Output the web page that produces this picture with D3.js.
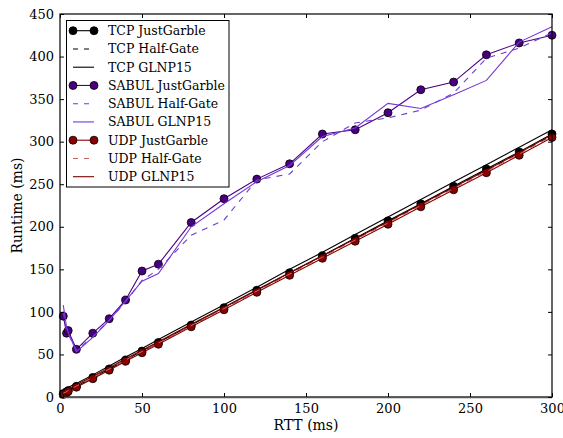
<!DOCTYPE html>
<html><head><meta charset="utf-8">
<script src="https://cdn.jsdelivr.net/npm/d3@7"></script>
<style>
html,body{margin:0;padding:0;background:#fff;}
text{font-family:"DejaVu Serif",serif;fill:#000;}
</style></head>
<body><svg id="c" width="563" height="438"></svg>
<script>
const rtt = [2,4,5,10,20,30,40,50,60,80,100,120,140,160,180,200,220,240,260,280,300];
const tcpJustGarble = [4,6,7.5,12.5,23,33,43.5,54,64,84.5,105,125.5,146,166,186.5,207,227,247.5,268,288,309];
const tcpHalfGate = [3.5,5.5,7,12,22.5,32.5,43,53,63.5,84,104,124.5,145,165.5,186,206,226.5,246.5,267,287,307.5];
const tcpGLNP15 = [9,10.5,11.5,16,26,36.5,47,57,67.5,88,108.5,129,150,170,191,211.5,232,252.5,273,293.5,314];
const sabulJustGarble = [95,75,78,56,75,92,114,148,156,205,233,256,274,309,314,334,361,370,402,416,425];
const sabulHalfGate = [100,78,74,55,71,90,112,137,150,190,208,255,262,300,322,328,337,357,398,410,428];
const sabulGLNP15 = [108,82,76,53,70,90,113,136,145,200,227,253,272,306,316,345,339,355,372,417,435];
const udpJustGarble = [3,5,6.5,11.5,21.5,31.5,42,52,62,82.5,102.5,123,143,163,183,203,223.5,243.5,263.5,284,305];
const udpHalfGate = [4.5,6.5,8,13,23,33,43.5,53.5,63.5,84,104,124.5,144.5,164.5,184.5,204.5,225,245,265,285.5,306.5];
const udpGLNP15 = [6,8,9.5,14.5,24.5,34.5,45,55,65,85.5,105.5,126,146,166,186,206,226.5,246.5,266.5,287,308];
const xTicks = [0,50,100,150,200,250,300];
const yTicks = [0,50,100,150,200,250,300,350,400,450];
const seriesNames = ["TCP JustGarble","TCP Half-Gate","TCP GLNP15","SABUL JustGarble","SABUL Half-Gate","SABUL GLNP15","UDP JustGarble","UDP Half-Gate","UDP GLNP15"];
const seriesValues = [tcpJustGarble,tcpHalfGate,tcpGLNP15,sabulJustGarble,sabulHalfGate,sabulGLNP15,udpJustGarble,udpHalfGate,udpGLNP15];

const styles = [
  {color:"#000000", marker:"#000000", dash:null},
  {color:"#000000", marker:null, dash:"6,6"},
  {color:"#000000", marker:null, dash:null},
  {color:"#4b0082", marker:"#4b0082", dash:null},
  {color:"#6a3fd0", marker:null, dash:"6,6"},
  {color:"#7436d8", marker:null, dash:null},
  {color:"#8b0000", marker:"#8b0000", dash:null},
  {color:"#c86464", marker:null, dash:"6,6"},
  {color:"#7a0000", marker:null, dash:null}
];

const svg = d3.select("#c");
const L=60, R=552, T=14, B=397;
const x = d3.scaleLinear().domain([0,300]).range([L,R]);
const y = d3.scaleLinear().domain([0,450]).range([B,T]);

svg.append("defs").append("clipPath").attr("id","clip")
  .append("rect").attr("x",L-4).attr("y",T-6).attr("width",R-L+10).attr("height",B-T+8);

const plot = svg.append("g").attr("clip-path","url(#clip)");
const line = d3.line().x((d,i)=>x(rtt[i])).y(d=>y(d));

seriesValues.forEach((vals,k)=>{
  const s = styles[k];
  const g = plot.append("g");
  g.append("path").attr("d", line(vals)).attr("fill","none")
    .attr("stroke", s.color).attr("stroke-width",1.1)
    .attr("stroke-dasharray", s.dash);
  if (s.marker) {
    g.selectAll("circle").data(vals).join("circle")
      .attr("cx",(d,i)=>x(rtt[i])).attr("cy",d=>y(d)).attr("r",4)
      .attr("fill",s.marker).attr("stroke","#000").attr("stroke-width",0.8);
  }
});

// frame
svg.append("rect").attr("x",L).attr("y",T).attr("width",R-L).attr("height",B-T)
  .attr("fill","none").attr("stroke","#000").attr("stroke-width",1.2);
svg.append("line").attr("x1",L).attr("x2",R).attr("y1",B+0.5).attr("y2",B+0.5)
  .attr("stroke","#555").attr("stroke-width",1.6);

// axes with inward ticks
const xa = svg.append("g").attr("transform",`translate(0,${B})`)
  .call(d3.axisBottom(x).tickValues(xTicks).tickSizeInner(-4).tickSizeOuter(0).tickPadding(7));
const xaTop = svg.append("g").attr("transform",`translate(0,${T})`)
  .call(d3.axisTop(x).tickValues(xTicks).tickSizeInner(-4).tickSizeOuter(0).tickFormat(""));
const ya = svg.append("g").attr("transform",`translate(${L},0)`)
  .call(d3.axisLeft(y).tickValues(yTicks).tickSizeInner(-4).tickSizeOuter(0).tickPadding(6));
const yaR = svg.append("g").attr("transform",`translate(${R},0)`)
  .call(d3.axisRight(y).tickValues(yTicks).tickSizeInner(-4).tickSizeOuter(0).tickFormat(""));
[xa,xaTop,ya,yaR].forEach(a=>{
  a.select(".domain").remove();
  a.selectAll("text").attr("font-family","DejaVu Serif").attr("font-size",13).attr("fill","#000");
});

// axis labels
svg.append("text").attr("x",(L+R)/2).attr("y",430).attr("text-anchor","middle")
  .attr("font-size",14).text("RTT (ms)");
svg.append("text").attr("transform",`translate(22,${(T+B)/2}) rotate(-90)`)
  .attr("text-anchor","middle").attr("font-size",14).text("Runtime (ms)");

// legend
const lg = svg.append("g");
lg.append("rect").attr("x",66.5).attr("y",20.5).attr("width",162.5).attr("height",166.5)
  .attr("fill","#fff").attr("stroke","#000").attr("stroke-width",1);
seriesNames.forEach((name,k)=>{
  const s = styles[k];
  const cy = 30.7 + k*18.25;
  lg.append("line").attr("x1",73).attr("x2",94).attr("y1",cy).attr("y2",cy)
    .attr("stroke",s.color).attr("stroke-width",1.1).attr("stroke-dasharray", s.dash ? "5,6" : null);
  if (s.marker) {
    [73,94].forEach(cx=>lg.append("circle").attr("cx",cx).attr("cy",cy).attr("r",4)
      .attr("fill",s.marker).attr("stroke","#000").attr("stroke-width",0.8));
  }
  lg.append("text").attr("x",108).attr("y",cy+4.5).attr("font-size",12.5).text(name);
});
</script></body></html>
